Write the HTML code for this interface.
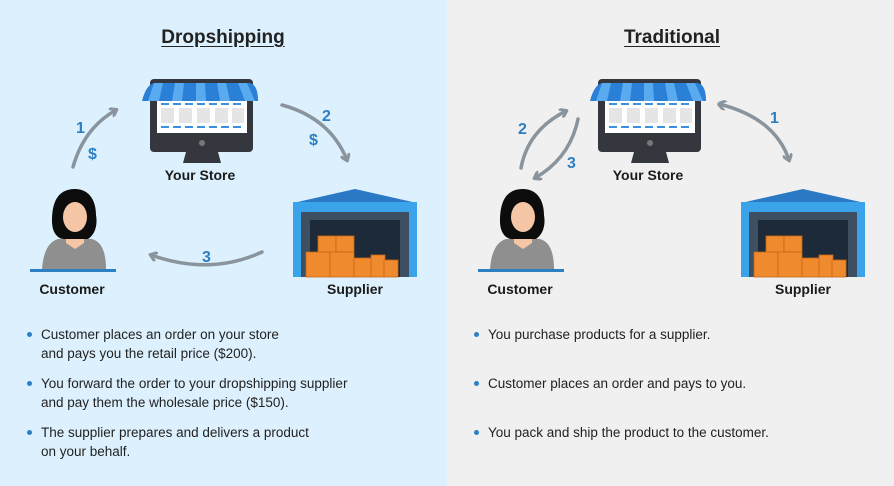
<!DOCTYPE html>
<html><head><meta charset="utf-8"><style>
html,body{margin:0;padding:0}
body{width:894px;height:486px;position:relative;overflow:hidden;font-family:"Liberation Sans",sans-serif;color:#222}
.l{position:absolute;left:0;top:0;width:447px;height:486px;background:#dcf0fd}
.r{position:absolute;left:447px;top:0;width:447px;height:486px;background:#f0f0f0}
.t{position:absolute;font-weight:bold;font-size:19px;text-decoration:underline;text-underline-offset:3px;transform:translateX(-50%);top:27px}
.lab{position:absolute;font-size:14px;font-weight:bold;transform:translateX(-50%);white-space:nowrap;color:#1a1a1a}
.b{position:absolute;font-size:13.5px;line-height:19px;color:#222}
.b:before{content:"";position:absolute;left:-14px;top:7px;width:5px;height:5px;border-radius:50%;background:#2d7fc4}
svg{position:absolute;left:0;top:0}
</style></head><body>
<div class="l"></div><div class="r"></div>
<svg width="894" height="486">
<defs>
<symbol id="store" viewBox="0 0 116 86" overflow="visible">
<rect x="8" y="0" width="103" height="73" rx="4" fill="#34373d"/>
<rect x="15" y="16" width="90" height="38" fill="#fff"/>
<g fill="#e5e5e5"><rect x="19" y="29" width="13" height="15"/><rect x="37" y="29" width="13" height="15"/><rect x="55" y="29" width="13" height="15"/><rect x="73" y="29" width="13" height="15"/><rect x="90" y="29" width="12" height="15"/></g>
<g stroke="#3b8fe0" stroke-width="2"><line x1="19" y1="25" x2="101" y2="25" stroke-dasharray="8,4"/><line x1="19" y1="48" x2="101" y2="48" stroke-dasharray="8,4"/></g>
<circle cx="60" cy="64" r="3" fill="#777"/>
<path d="M44 73h32l3 11h-38z" fill="#34373d"/>
<path d="M0 22 Q4 6 12 4 H108 Q116 6 116 22 Z" fill="#2a7fd6"/>
<g fill="#5aaaf0"><path d="M12 4h9l-4 18h-11z"/><path d="M33 4h9l-2 18h-10z"/><path d="M54 4h9l1 18h-10z"/><path d="M75 4h9l4 18h-10z"/><path d="M96 4h9l8 18h-10z"/></g>
</symbol>
<symbol id="cust" viewBox="0 0 90 90" overflow="visible">
<path d="M12 82 Q14 56 28 52 L62 52 Q76 56 76 82 Z" fill="#8f8f8f"/>
<path d="M36 48 h18 v8 l-9 6 l-9 -6z" fill="#f4c6a6"/>
<path d="M45 2 C26 2 22 18 22 34 C22 46 28 52 34 52 L58 52 C64 48 68 40 66 28 C66 12 58 2 45 2Z" fill="#0c0c0c"/>
<ellipse cx="45" cy="30" rx="12" ry="15" fill="#f4c6a6"/>
<path d="M32 20 Q40 8 58 18 Q52 12 45 10 Q34 12 32 20Z" fill="#0c0c0c"/>
<rect x="0" y="82" width="86" height="3" fill="#2d7fc4"/>
</symbol>
<symbol id="sup" viewBox="0 0 124 88" overflow="visible">
<path d="M0 14 L62 0 L124 14 Z" fill="#2b79c4"/>
<rect x="0" y="13" width="124" height="75" fill="#3ba3ea"/>
<rect x="8" y="23" width="108" height="65" fill="#3d4f60"/>
<rect x="17" y="31" width="90" height="57" fill="#1c2a39"/>
<g fill="#ef8a2e" stroke="#c86616" stroke-width="0.8"><rect x="25" y="47" width="18" height="16"/><rect x="43" y="47" width="18" height="16"/><rect x="13" y="63" width="24" height="25"/><rect x="37" y="63" width="24" height="25"/><rect x="61" y="69" width="18" height="19"/><rect x="78" y="66" width="14" height="22"/><rect x="91" y="71" width="14" height="17"/></g>
</symbol>
<marker id="ah" markerWidth="10" markerHeight="10" refX="6" refY="5" orient="auto" markerUnits="userSpaceOnUse"><path d="M0 0 L7 5 L0 10" fill="none" stroke="#8a949c" stroke-width="3" stroke-linecap="round" stroke-linejoin="round"/></marker>
<marker id="as" markerWidth="10" markerHeight="10" refX="1" refY="5" orient="auto" markerUnits="userSpaceOnUse"><path d="M7 0 L0 5 L7 10" fill="none" stroke="#8a949c" stroke-width="3" stroke-linecap="round" stroke-linejoin="round"/></marker>
</defs>
<use href="#store" x="142" y="79" width="116" height="86"/>
<use href="#store" x="590" y="79" width="116" height="86"/>
<use href="#cust" x="30" y="187" width="90" height="90"/>
<use href="#cust" x="478" y="187" width="90" height="90"/>
<use href="#sup" x="293" y="189" width="124" height="88"/>
<use href="#sup" x="741" y="189" width="124" height="88"/>
<g fill="none" stroke="#8a949c" stroke-width="3.5" stroke-linecap="round">
<path d="M73 167 Q84 128 116 110" marker-end="url(#ah)"/>
<path d="M282 105 Q330 118 347 160" marker-end="url(#ah)"/>
<path d="M262 252 Q210 276 151 255" marker-end="url(#ah)"/>
<path d="M521 168 Q528 130 566 111" marker-end="url(#ah)"/>
<path d="M578 119 Q570 158 535 178" marker-end="url(#ah)"/>
<path d="M719 104 Q775 118 789 160" marker-start="url(#as)" marker-end="url(#ah)"/>
</g>
<g fill="#2d7fc4" font-family="Liberation Sans,sans-serif" font-weight="bold" font-size="16">
<text x="76" y="133">1</text><text x="88" y="159">$</text>
<text x="322" y="121">2</text><text x="309" y="145">$</text>
<text x="202" y="262">3</text>
<text x="518" y="134">2</text><text x="567" y="168">3</text>
<text x="770" y="123">1</text>
</g>
</svg>
<div class="t" style="left:223px">Dropshipping</div>
<div class="t" style="left:672px">Traditional</div>
<div class="lab" style="left:200px;top:167px">Your Store</div>
<div class="lab" style="left:648px;top:167px">Your Store</div>
<div class="lab" style="left:72px;top:281px">Customer</div>
<div class="lab" style="left:520px;top:281px">Customer</div>
<div class="lab" style="left:355px;top:281px">Supplier</div>
<div class="lab" style="left:803px;top:281px">Supplier</div>
<div class="b" style="left:41px;top:325px">Customer places an order on your store<br>and pays you the retail price ($200).</div>
<div class="b" style="left:41px;top:374px">You forward the order to your dropshipping supplier<br>and pay them the wholesale price ($150).</div>
<div class="b" style="left:41px;top:423px">The supplier prepares and delivers a product<br>on your behalf.</div>
<div class="b" style="left:488px;top:325px">You purchase products for a supplier.</div>
<div class="b" style="left:488px;top:374px">Customer places an order and pays to you.</div>
<div class="b" style="left:488px;top:423px">You pack and ship the product to the customer.</div>
</body></html>
